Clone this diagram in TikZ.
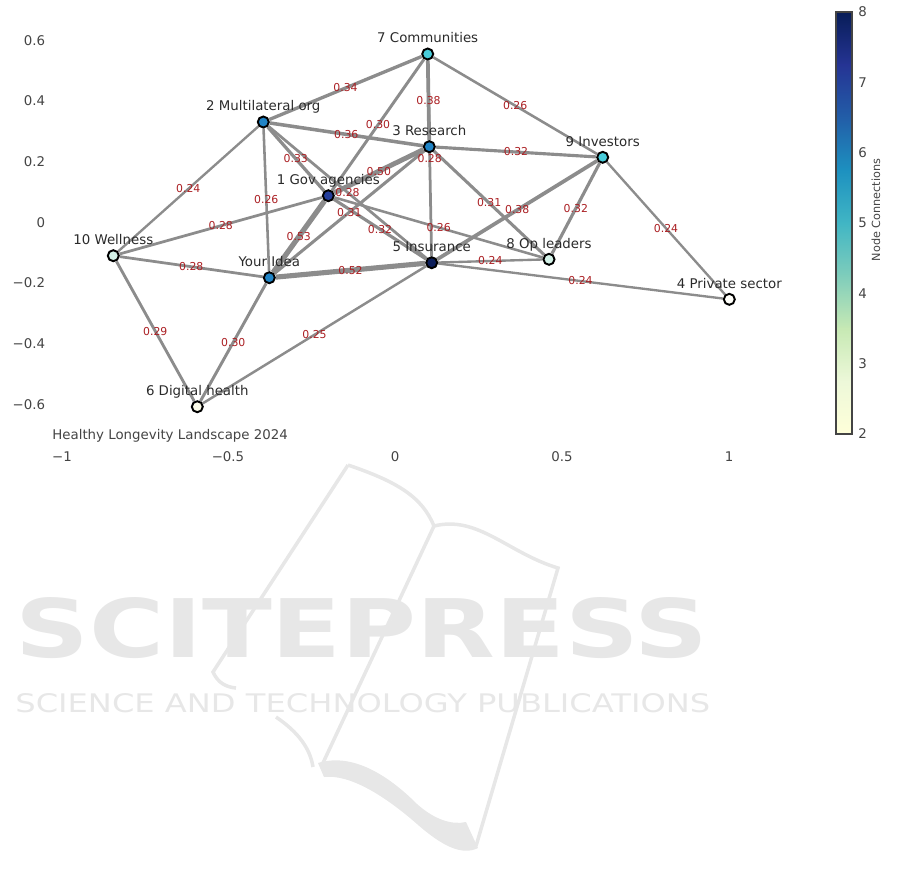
\documentclass[tikz,border=0pt]{standalone}
\usepackage{fontspec}
\setmainfont{DejaVu Sans}
\usepackage{graphicx}

\definecolor{edgegray}{RGB}{140,140,140}
\definecolor{wred}{RGB}{170,30,34}
\definecolor{labtxt}{RGB}{42,42,42}
\definecolor{ticktxt}{RGB}{68,68,68}
\definecolor{wmark}{RGB}{231,231,231}
% colour bar (YlGnBu, dark at the top)
\definecolor{cb0}{RGB}{8,29,88}
\definecolor{cb1}{RGB}{37,52,148}
\definecolor{cb2}{RGB}{34,94,168}
\definecolor{cb3}{RGB}{29,145,192}
\definecolor{cb4}{RGB}{65,182,196}
\definecolor{cb5}{RGB}{127,205,187}
\definecolor{cb6}{RGB}{199,233,180}
\definecolor{cb7}{RGB}{237,248,217}
\definecolor{cb8}{RGB}{255,255,217}
% node fills
\definecolor{degE}{RGB}{12,30,90}
\definecolor{degS}{RGB}{36,62,155}
\definecolor{degX}{RGB}{32,132,198}
\definecolor{degF}{RGB}{72,204,218}
\definecolor{degV}{RGB}{212,242,232}
\definecolor{degT}{RGB}{252,252,234}
\definecolor{degW}{RGB}{255,255,250}

\pgfdeclarelayer{edges}
\pgfsetlayers{edges,main}

\tikzset{
  vtx/.style={circle, draw=black, line width=1.1pt, minimum size=0.22cm,
    inner sep=0pt, fill=#1},
  vlbl/.style={font=\fontsize{7.6}{9}\selectfont, text=labtxt, inner sep=0pt,
    text depth=0pt, yshift=2.4pt},
  wlbl/.style={font=\fontsize{6.2}{7}\selectfont, text=wred, inner sep=0pt},
  link/.style={draw=edgegray},
  tick/.style={font=\fontsize{7.6}{9}\selectfont, text=ticktxt, inner sep=0pt},
  wmline/.style={draw=wmark, line width=2pt},
}

\begin{document}
\begin{tikzpicture}[x=0.02cm, y=-0.02cm]
\useasboundingbox (0,0) rectangle (901,887);

% watermark
\draw[wmline] (348,465) -- (213,672) .. controls (218,683) and (226,687) .. (236,688);
\draw[wmline] (348,465) .. controls (398,482) and (422,497) .. (434,526)
  .. controls (478,515) and (508,553) .. (558,568) -- (476,846);
\draw[wmline] (434,526) -- (322,765);
\draw[wmline] (276,717) .. controls (298,732) and (310,748) .. (313,767);
\fill[wmark] (318,763) .. controls (350,753) and (385,772) .. (417,804)
  .. controls (435,820) and (452,825) .. (466,822) -- (478,848)
  .. controls (462,856) and (442,846) .. (417,824)
  .. controls (385,796) and (350,774) .. (324,777) -- cycle;
\node[anchor=north west, inner sep=0pt, text=wmark] (wm1) at (15,597)
  {\resizebox{13.86cm}{1.2cm}{\bfseries SCITEPRESS}};
\node[anchor=north west, inner sep=0pt, text=wmark] (wm2) at (15,693)
  {\resizebox{13.9cm}{0.38cm}{SCIENCE AND TECHNOLOGY PUBLICATIONS}};

% axes
\foreach \v/\y in {0.6/40.3, 0.4/101, 0.2/161.7, 0/222.4, −0.2/283, −0.4/343.7, −0.6/404.4}
  \node[tick, anchor=east] at (45.5,\y) {\v};
\foreach \v/\x in {−1/62, −0.5/228, 0/395, 0.5/562, 1/729}
  \node[tick] at (\x,457) {\v};
\node[tick, anchor=base west] (title) at (52,439) {Healthy Longevity Landscape 2024};

% colour bar
\foreach \i [evaluate=\i as \j using int(\i+1)] in {0,...,7}
  \shade[top color=cb\i, bottom color=cb\j] (836,12+52.75*\i) rectangle (852,12.6+52.75*\j);
\draw[ticktxt, line width=0.6pt] (836,12) rectangle (852,434);
\foreach \v [evaluate=\v as \y using 434-70.33*(\v-2)] in {2,...,8}
  \node[tick, anchor=west] at (858,\y) {\v};
\node[tick, font=\fontsize{6.4}{8}\selectfont, rotate=90] (cbtitle) at (876,210) {Node Connections};

% actors
\node[vtx=degF, label={[vlbl]above:7 Communities}] (n7) at (427.7,54) {};
\node[vtx=degX, label={[vlbl]above:2 Multilateral org}] (n2) at (263.3,122) {};
\node[vtx=degX, label={[vlbl]above:3 Research}] (n3) at (429.3,146.7) {};
\node[vtx=degF, label={[vlbl]above:9 Investors}] (n9) at (602.7,157.3) {};
\node[vtx=degS, label={[vlbl]above:1 Gov agencies}] (n1) at (328.3,195.7) {};
\node[vtx=degV, label={[vlbl]above:10 Wellness}] (n10) at (113.3,255.7) {};
\node[vtx=degX, label={[vlbl]above:Your Idea}] (nY) at (269.3,277.7) {};
\node[vtx=degE, label={[vlbl]above:5 Insurance}] (n5) at (431.7,262.7) {};
\node[vtx=degV, label={[vlbl]above:8 Op leaders}] (n8) at (549,259.3) {};
\node[vtx=degW, label={[vlbl]above:4 Private sector}] (n4) at (729.3,299.3) {};
\node[vtx=degT, label={[vlbl]above:6 Digital health}] (n6) at (197.3,406.7) {};

% weighted links
\foreach \a/\b/\w in {n2/n7/0.34, n7/n3/0.38, n7/n9/0.26, n7/n1/0.30, n7/n5/0.28,
    n2/n3/0.36, n3/n9/0.32, n2/n1/0.33, n2/n5/0.28, n2/nY/0.26, n10/n2/0.24,
    n1/n3/0.50, n1/nY/0.53, n1/n5/0.32, n1/n8/0.26, n10/n1/0.28, nY/n3/0.31,
    nY/n5/0.52, n10/nY/0.28, nY/n6/0.30, n10/n6/0.29, n6/n5/0.25, n3/n8/0.31,
    n9/n5/0.38, n9/n8/0.32, n9/n4/0.24, n5/n8/0.24, n5/n4/0.24}{
  \pgfmathsetmacro\lw{\w*5.6}
  \begin{pgfonlayer}{edges}
    \draw[link, line width=\lw pt] (\a) -- (\b);
  \end{pgfonlayer}
  \path (\a) -- node[wlbl] {\w} (\b);
}
\end{tikzpicture}
\end{document}
